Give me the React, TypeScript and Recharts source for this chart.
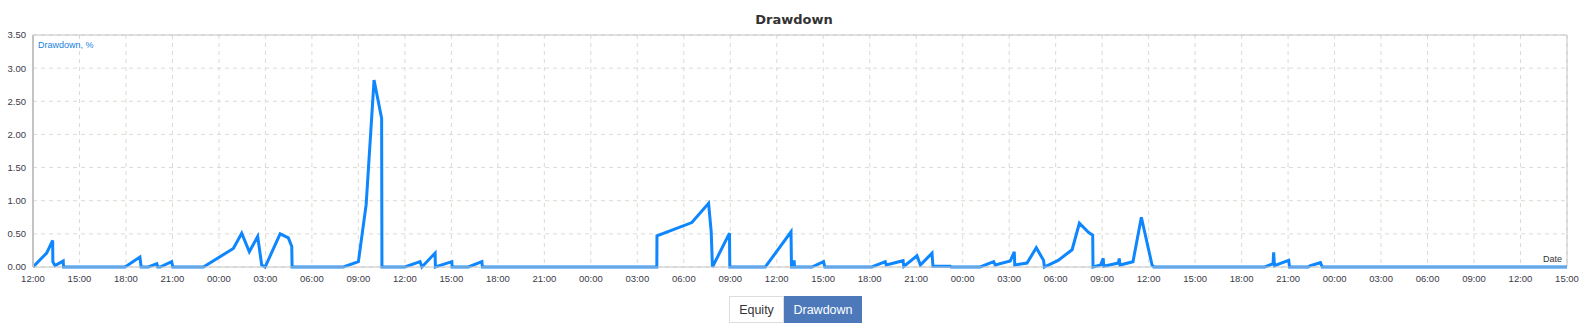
import { CartesianGrid, Line, LineChart, ReferenceLine, XAxis, YAxis } from 'recharts';

// hours since the first tick (12:00 on day one)
const hours = [
  0, 0.88, 1.27, 1.28, 1.42, 1.95, 1.97, 5.94, 6.9, 6.98, 7.45, 7.99, 8.05, 8.2, 8.95, 9.02,
  11.0, 12.93, 13.47, 13.96, 14.5, 14.76, 14.98, 15.95, 16.48, 16.7, 16.72,
  20.03, 21.0, 21.5, 22.01, 22.5, 22.52,
  24.0, 24.98, 25.1, 25.95, 25.97, 27.03, 27.05, 28.1, 28.97, 29.0,
  40.26, 40.27, 42.52, 43.6, 43.77, 43.85, 44.95, 44.97,
  47.26, 48.92, 48.95, 49.1, 49.12, 49.15, 50.27, 51.02, 51.1,
  54.14, 55.0, 55.07, 56.15, 56.2, 57.05, 57.27, 58.02, 58.08, 59.2, 59.25,
  61.13, 62.0, 62.1, 63.07, 63.33, 63.36, 64.15, 64.75, 65.22, 65.27, 66.16, 67.06, 67.53, 68.13, 68.39, 68.41,
  68.9, 69.07, 69.1, 70.05, 70.1, 70.15, 70.99, 71.53, 72.22, 72.33,
  79.5, 80.03, 80.07, 80.12, 81.04, 81.09, 82.3, 82.44, 83.09, 83.2, 99,
];

const drawdown = [
  0, 0.21, 0.4, 0.08, 0.02, 0.09, 0, 0, 0.15, 0, 0, 0.05, 0, 0, 0.08, 0,
  0, 0.28, 0.51, 0.23, 0.46, 0.03, 0, 0.5, 0.44, 0.31, 0,
  0, 0.08, 0.94, 2.82, 2.24, 0,
  0, 0.08, 0, 0.21, 0, 0.08, 0, 0, 0.08, 0,
  0, 0.47, 0.67, 0.96, 0.53, 0, 0.51, 0,
  0, 0.53, 0, 0, 0.1, 0, 0, 0.08, 0,
  0, 0.08, 0.03, 0.095, 0.01, 0.17, 0.03, 0.21, 0.01, 0.01, 0,
  0, 0.08, 0.03, 0.09, 0.23, 0.03, 0.06, 0.29, 0.1, 0, 0.1, 0.26, 0.66, 0.52, 0.48, 0,
  0.03, 0.13, 0.01, 0.06, 0.13, 0.03, 0.08, 0.75, 0.03, 0,
  0, 0.05, 0.22, 0.02, 0.1, 0, 0, 0.02, 0.065, 0, 0,
];

const xTicks = [
  0, 3, 6, 9, 12, 15, 18, 21, 24, 27, 30, 33, 36, 39, 42, 45, 48,
  51, 54, 57, 60, 63, 66, 69, 72, 75, 78, 81, 84, 87, 90, 93, 96, 99,
];
const xTickLabels = [
  '12:00', '15:00', '18:00', '21:00', '00:00', '03:00', '06:00', '09:00',
  '12:00', '15:00', '18:00', '21:00', '00:00', '03:00', '06:00', '09:00',
  '12:00', '15:00', '18:00', '21:00', '00:00', '03:00', '06:00', '09:00',
  '12:00', '15:00', '18:00', '21:00', '00:00', '03:00', '06:00', '09:00',
  '12:00', '15:00',
];
const yTicks = [0, 0.5, 1, 1.5, 2, 2.5, 3, 3.5];

const data = hours.map((h, i) => ({ h, dd: drawdown[i] }));

const font = '"Liberation Sans", Arial, sans-serif';

export default function App() {
  return (
    <div style={{ position: 'absolute', left: 0, top: 0, width: 1588, height: 332, background: '#fff', fontFamily: font }}>
      <div
        style={{
          position: 'absolute', left: 0, top: 12, width: 1588, textAlign: 'center',
          fontFamily: '"DejaVu Sans", sans-serif', fontWeight: 'bold', fontSize: 13, lineHeight: '16px', color: '#333',
        }}
      >
        Drawdown
      </div>
      <LineChart
        width={1588}
        height={300}
        data={data}
        margin={{ top: 35, right: 21, left: 0, bottom: 8 }}
        style={{ position: 'absolute', left: 0, top: 0 }}
      >
        <CartesianGrid stroke="#dcdad4" strokeDasharray="4 4" />
        <XAxis
          dataKey="h"
          type="number"
          domain={[0, 99]}
          ticks={xTicks}
          tickFormatter={(v: number) => xTickLabels[Math.round(v / 3)]}
          interval={0}
          height={25}
          tickLine={false}
          tickSize={0}
          tickMargin={8}
          axisLine={{ stroke: '#c4c4c4' }}
          tick={{ fill: '#3a3a48', fontSize: 9.5, fontFamily: font }}
        />
        <YAxis
          type="number"
          domain={[0, 3.5]}
          ticks={yTicks}
          tickFormatter={(v: number) => v.toFixed(2)}
          interval={0}
          width={33}
          tickLine={false}
          tickSize={0}
          tickMargin={7}
          axisLine={{ stroke: '#c4c4c4', strokeWidth: 2 }}
          tick={{ fill: '#3a3a48', fontSize: 9.5, fontFamily: font }}
        />
        <ReferenceLine y={3.5} stroke="#c4c4c4" />
        <ReferenceLine x={99} stroke="#c4c4c4" />
        <Line
          type="linear"
          dataKey="dd"
          stroke="#0e86fe"
          strokeWidth={3}
          dot={false}
          activeDot={false}
          isAnimationActive={false}
        />
      </LineChart>
      <div style={{ position: 'absolute', left: 38, top: 40, fontSize: 9, lineHeight: '11px', color: '#1a7fe0' }}>
        Drawdown, %
      </div>
      <div style={{ position: 'absolute', left: 1543, top: 254, fontSize: 9, lineHeight: '11px', color: '#333' }}>
        Date
      </div>
      <div style={{ position: 'absolute', left: 729, top: 296, display: 'flex', height: 27, fontSize: 12.5 }}>
        <div
          style={{
            width: 53, height: 25, border: '1px solid #ddd', background: '#fff', color: '#333',
            display: 'flex', alignItems: 'center', justifyContent: 'center',
          }}
        >
          Equity
        </div>
        <div
          style={{
            width: 78, height: 27, background: '#4d79bb', color: '#fff',
            display: 'flex', alignItems: 'center', justifyContent: 'center',
          }}
        >
          Drawdown
        </div>
      </div>
    </div>
  );
}
